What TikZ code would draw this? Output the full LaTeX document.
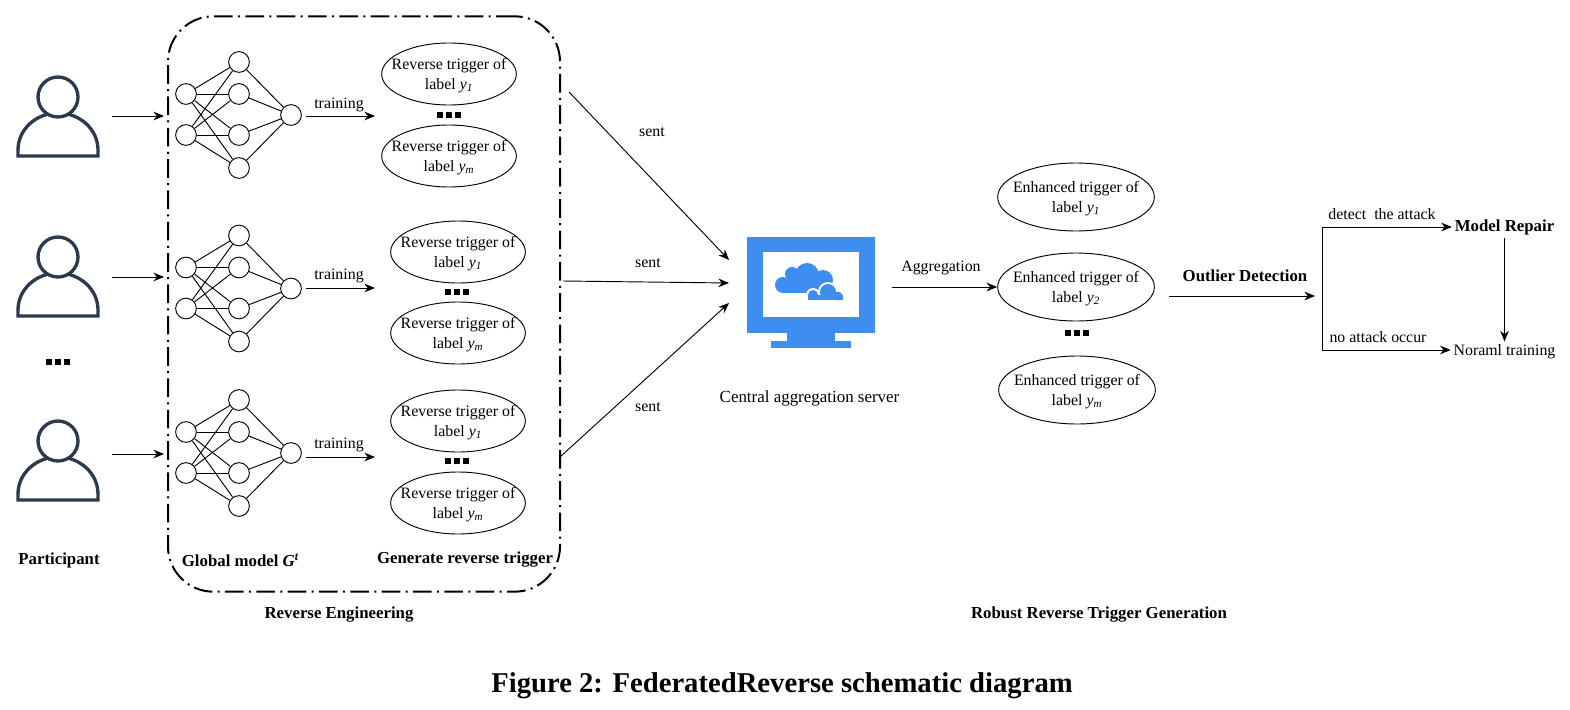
\documentclass[tikz,border=0pt]{standalone}
\usepackage{fontspec}
\setmainfont{Liberation Serif}
\usetikzlibrary{arrows.meta,shapes.geometric}
\definecolor{userblue}{HTML}{2B3A4E}
\definecolor{srvblue}{HTML}{3D8EF0}
\newcommand{\yl}[1]{\textit{y}\textsubscript{\textit{#1}}}
\newcommand{\threedots}{\rule{4.5pt}{4.5pt}\hspace{2.4pt}\rule{4.5pt}{4.5pt}\hspace{2.4pt}\rule{4.5pt}{4.5pt}}
\tikzset{
  >={Stealth[length=8pt,width=6.5pt]},
  plain/.style={inner sep=0pt,yshift=-1.2pt,font=\fontsize{11.9}{14.3}\selectfont,align=center},
  boldtxt/.style={inner sep=0pt,yshift=-1.5pt,font=\fontsize{12.6}{14.2}\selectfont\bfseries},
  usernode/.style={minimum width=81pt,minimum height=30pt,inner sep=0pt},
  neuron/.style={circle,draw,minimum size=15.5pt,inner sep=0pt,line width=0.7pt},
  trig/.style={ellipse,draw,inner sep=0pt,minimum width=101pt,minimum height=46.5pt,line width=0.7pt},
  enh/.style={ellipse,draw,inner sep=0pt,minimum width=117.5pt,minimum height=51pt,line width=0.7pt},
  dotsnode/.style={inner sep=0pt},
  link/.style={line width=0.7pt}
}
\begin{document}
\begin{tikzpicture}[x=0.75pt,y=-0.75pt]
  \useasboundingbox (0,0) rectangle (1570,710);
  % reverse engineering box
  \node[draw,line width=1.5pt,rounded corners=34pt,minimum width=294pt,minimum height=431.5pt,inner sep=0pt,
    dash pattern=on 14pt off 4pt on 1.5pt off 4pt] (re) at (364,304) {};
  % participants
  \foreach \k/\y in {1/0,2/160,3/344} {
    \draw[userblue,line width=2.5pt] (18,156+\y) -- (18,150+\y) arc[start angle=180,end angle=360,x radius=40,y radius=37] -- (98,156+\y) -- cycle;
    \draw[userblue,line width=2.5pt,fill=white] (58,97+\y) circle[radius=20];
  }
  \node[usernode] (p1) at (58,116) {};
  \node[usernode] (p2) at (58,277) {};
  \node[usernode] (p3) at (58,454) {};
  \foreach \k in {1,2,3}
    \draw[->,link,shorten >=2.2pt] (p\k.east) -- (p\k.east -| re.west);
  \node[dotsnode] (pd) at (58,362) {\threedots};
  % global models
  \foreach \k/\dy in {1/0,2/173.5,3/338} {
    \node[neuron] (i\k1) at (186,94+\dy) {};
    \node[neuron] (i\k2) at (186,135+\dy) {};
    \node[neuron] (m\k1) at (239,62+\dy) {};
    \node[neuron] (m\k2) at (239,94+\dy) {};
    \node[neuron] (m\k3) at (239,135+\dy) {};
    \node[neuron] (m\k4) at (239,168+\dy) {};
    \node[neuron] (o\k) at (291,115+\dy) {};
    \foreach \a in {1,2} \foreach \b in {1,2,3,4}
      \draw[line width=0.7pt] (i\k\a) -- (m\k\b);
    \foreach \b in {1,2,3,4}
      \draw[line width=0.7pt] (m\k\b) -- (o\k);
  }
  \coordinate (ts1) at (306,116); \coordinate (te1) at (375,116);
  \coordinate (ts2) at (306,288); \coordinate (te2) at (375,288);
  \coordinate (ts3) at (306,457); \coordinate (te3) at (375,457);
  \foreach \k in {1,2,3}
    \draw[->,link] (ts\k) -- (te\k);
  \node[plain] (tr1) at (339,103) {training};
  \node[plain] (tr2) at (339,274) {training};
  \node[plain] (tr3) at (339,443) {training};
  % reverse triggers
  \node[trig,label={[plain]center:Reverse trigger of\\label \yl{1}}] (r11) at (449,74) {};
  \node[dotsnode] (d1) at (449,115) {\threedots};
  \node[trig,label={[plain]center:Reverse trigger of\\label \yl{m}}] (r12) at (449,156) {};
  \node[trig,label={[plain]center:Reverse trigger of\\label \yl{1}}] (r21) at (458,252) {};
  \node[dotsnode] (d2) at (457,292) {\threedots};
  \node[trig,label={[plain]center:Reverse trigger of\\label \yl{m}}] (r22) at (458,333) {};
  \node[trig,label={[plain]center:Reverse trigger of\\label \yl{1}}] (r31) at (458,421) {};
  \node[dotsnode] (d3) at (457,461) {\threedots};
  \node[trig,label={[plain]center:Reverse trigger of\\label \yl{m}}] (r32) at (458,503) {};
  % bottom labels
  \node[boldtxt] (lp) at (59,558) {Participant};
  \node[boldtxt] (lg) at (240.5,558) {Global model \textit{G}\textsuperscript{\textit{t}}};
  \node[boldtxt] (lr) at (465,558) {Generate reverse trigger};
  \node[boldtxt] (le) at (339,613) {Reverse Engineering};
  \node[boldtxt] (lb) at (1099,613) {Robust Reverse Trigger Generation};
  % server
  \node[fill=srvblue,inner sep=0pt,minimum width=95.5pt,minimum height=72pt] (srv) at (811,285) {};
  \fill[white] (763,252) rectangle (859,317);
  \fill[srvblue] (787,333) rectangle (835,341);
  \fill[srvblue] (771,341) rectangle (851,348);
  \fill[srvblue] (783,285) circle[radius=8];
  \fill[srvblue] (792,274) circle[radius=7];
  \fill[srvblue] (807,275) circle[radius=12];
  \fill[srvblue] (823,280) circle[radius=10];
  \fill[srvblue] (783,280) rectangle (832,293);
  \fill[white] (813,295) circle[radius=7];
  \fill[white] (828,292) circle[radius=10];
  \fill[white] (838,296) circle[radius=6];
  \fill[white] (806,296) rectangle (845,302);
  \fill[srvblue] (813,295) circle[radius=5];
  \fill[srvblue] (828,292) circle[radius=8];
  \fill[srvblue] (838,296) circle[radius=4.5];
  \fill[srvblue] (808,295) rectangle (843,300);
  \node[plain,font=\fontsize{12.7}{15}\selectfont] (srvl) at (809.5,397) {Central aggregation server};
  % sent arrows
  \coordinate (s1) at (569,92); \coordinate (c1) at (729,260);
  \coordinate (s2) at (563,281); \coordinate (c2) at (729,283);
  \coordinate (s3) at (560,457); \coordinate (c3) at (729,303);
  \foreach \k in {1,2,3}
    \draw[->,link] (s\k) -- (c\k);
  \node[plain] (sl1) at (652,131) {sent};
  \node[plain] (sl2) at (648,262) {sent};
  \node[plain] (sl3) at (648,406) {sent};
  % enhanced triggers
  \node[enh,label={[plain]center:Enhanced trigger of\\label \yl{1}}] (e1) at (1076,197) {};
  \node[enh,label={[plain]center:Enhanced trigger of\\label \yl{2}}] (e2) at (1076,287) {};
  \node[dotsnode] (d4) at (1077,333) {\threedots};
  \node[enh,label={[plain]center:Enhanced trigger of\\label \yl{m}}] (e3) at (1077,390) {};
  \coordinate (ag) at (892,287);
  \draw[->,link] (ag) -- (ag -| e2.west);
  \node[plain] (agl) at (941,266) {Aggregation};
  % outlier detection
  \coordinate (os) at (1169,296); \coordinate (oe) at (1315,296);
  \draw[->,link] (os) -- (oe);
  \node[boldtxt] (ol) at (1245,274) {Outlier Detection};
  \node[boldtxt,inner sep=2pt] (mr) at (1504.5,225) {Model Repair};
  \node[plain,inner sep=2pt] (nt) at (1504.5,350) {Noraml training};
  \coordinate (bt) at (1322,227); \coordinate (bb) at (1322,350);
  \draw[link] (bt) -- (bb);
  \draw[->,link] (bt) -- (bt -| mr.west);
  \draw[->,link] (bb) -- (bb -| nt.west);
  \draw[->,link] (mr.south) -- (mr.south |- nt.north);
  \node[plain] (dl) at (1382,212.5) {detect\ \ the attack};
  \node[plain] (nl) at (1378,335.5) {no attack occur};
  % caption
  \node[inner sep=0pt,yshift=-2pt,font=\fontsize{21.5}{24}\selectfont\bfseries] (cap) at (782,683) {Figure 2: FederatedReverse schematic diagram};
\end{tikzpicture}
\end{document}
